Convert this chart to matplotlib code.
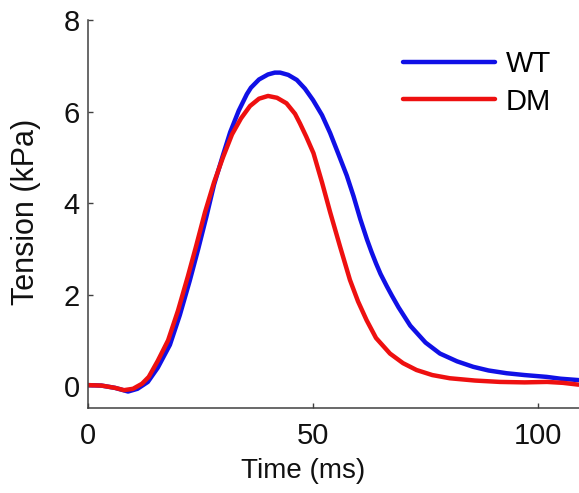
import matplotlib
matplotlib.use("Agg")
import matplotlib.pyplot as plt

plt.rcParams['font.family'] = ['Liberation Sans', 'DejaVu Sans']

# WT (blue) trace
wt_t = [0, 3, 6, 8.9, 11, 13.3, 15.5, 18.2, 20.4, 22.6, 24.5, 26.3, 28, 30, 31.6,
        33.5, 35.3, 36.2, 38, 40, 41.5, 42.7, 44.5, 46.4, 48.2, 50, 52, 53.8, 55.6,
        57.5, 59, 60.5, 62, 63, 64, 65, 66.4, 67.5, 69, 71.6, 75, 78.2, 82, 85.6,
        89, 93, 97, 101.9, 105, 109]
wt_y = [0.02, 0.01, -0.04, -0.12, -0.06, 0.09, 0.4, 0.9, 1.55, 2.3, 3.0, 3.7, 4.4,
        5.05, 5.55, 6.02, 6.38, 6.52, 6.7, 6.81, 6.85, 6.85, 6.8, 6.69, 6.5, 6.25,
        5.92, 5.53, 5.08, 4.6, 4.15, 3.65, 3.2, 2.93, 2.68, 2.45, 2.18, 1.98, 1.72,
        1.32, 0.95, 0.71, 0.54, 0.42, 0.34, 0.28, 0.24, 0.2, 0.16, 0.13]

# DM (red) trace
dm_t = [0, 3, 6, 8, 10, 12, 13.5, 15.5, 17.8, 20, 22.2, 24, 26, 28, 30, 32, 34, 36,
        38, 40, 42, 44.1, 46, 47.1, 48.5, 50.1, 52, 53.8, 56, 58.2, 60, 61.9, 64,
        67.1, 70, 73, 76.5, 80.4, 86, 91.5, 97, 102, 105.5, 109]
dm_y = [0.02, 0.01, -0.04, -0.09, -0.06, 0.05, 0.2, 0.55, 1.0, 1.65, 2.4, 3.05, 3.8,
        4.45, 5.0, 5.5, 5.85, 6.12, 6.28, 6.34, 6.3, 6.18, 5.95, 5.74, 5.45, 5.09,
        4.45, 3.8, 3.05, 2.32, 1.85, 1.44, 1.05, 0.71, 0.5, 0.35, 0.24, 0.17, 0.12,
        0.09, 0.08, 0.09, 0.07, 0.03]

labels = ['WT', 'DM']
xticks = [0, 50, 100]
yticks = [0, 2, 4, 6, 8]

fig = plt.figure(figsize=(5.79, 4.93), dpi=100)
ax = fig.add_axes([88 / 579, 85 / 493, 1 - 88 / 579, (408 - 20) / 493])

ax.plot(wt_t, wt_y, color='#1010e6', lw=3.2, label=labels[0],
        solid_capstyle='round', solid_joinstyle='round')
ax.plot(dm_t, dm_y, color='#ee1010', lw=3.2, label=labels[1],
        solid_capstyle='round', solid_joinstyle='round')

ax.set_xlim(0, 109.1)
ax.set_ylim(-0.48, 8)
ax.set_xticks(xticks)
ax.set_yticks(yticks)

for s in ['top', 'right']:
    ax.spines[s].set_visible(False)
for s in ['left', 'bottom']:
    ax.spines[s].set_color('#404040')
    ax.spines[s].set_linewidth(1.1)

ax.tick_params(direction='in', length=3.5, width=1, color='#404040',
               labelsize=21, colors='#111111')
ax.tick_params(axis='x', pad=10)
ax.tick_params(axis='y', pad=6)

ax.set_xlabel('Time (ms)', fontsize=20, color='#111111')
ax.set_ylabel('Tension (kPa)', fontsize=22, color='#111111')
ax.xaxis.set_label_coords((303 - 88) / (579 - 88), -0.13)
ax.yaxis.set_label_coords(-47 / 491, 0.505)

leg = ax.legend(loc='upper left', bbox_to_anchor=(403 / 579, 1 - 50 / 493),
                bbox_transform=fig.transFigure, frameon=False, fontsize=21,
                handlelength=3.15, handletextpad=0.38, labelspacing=0.33,
                borderpad=0, borderaxespad=0)

fig.savefig('out.png', dpi=100)
